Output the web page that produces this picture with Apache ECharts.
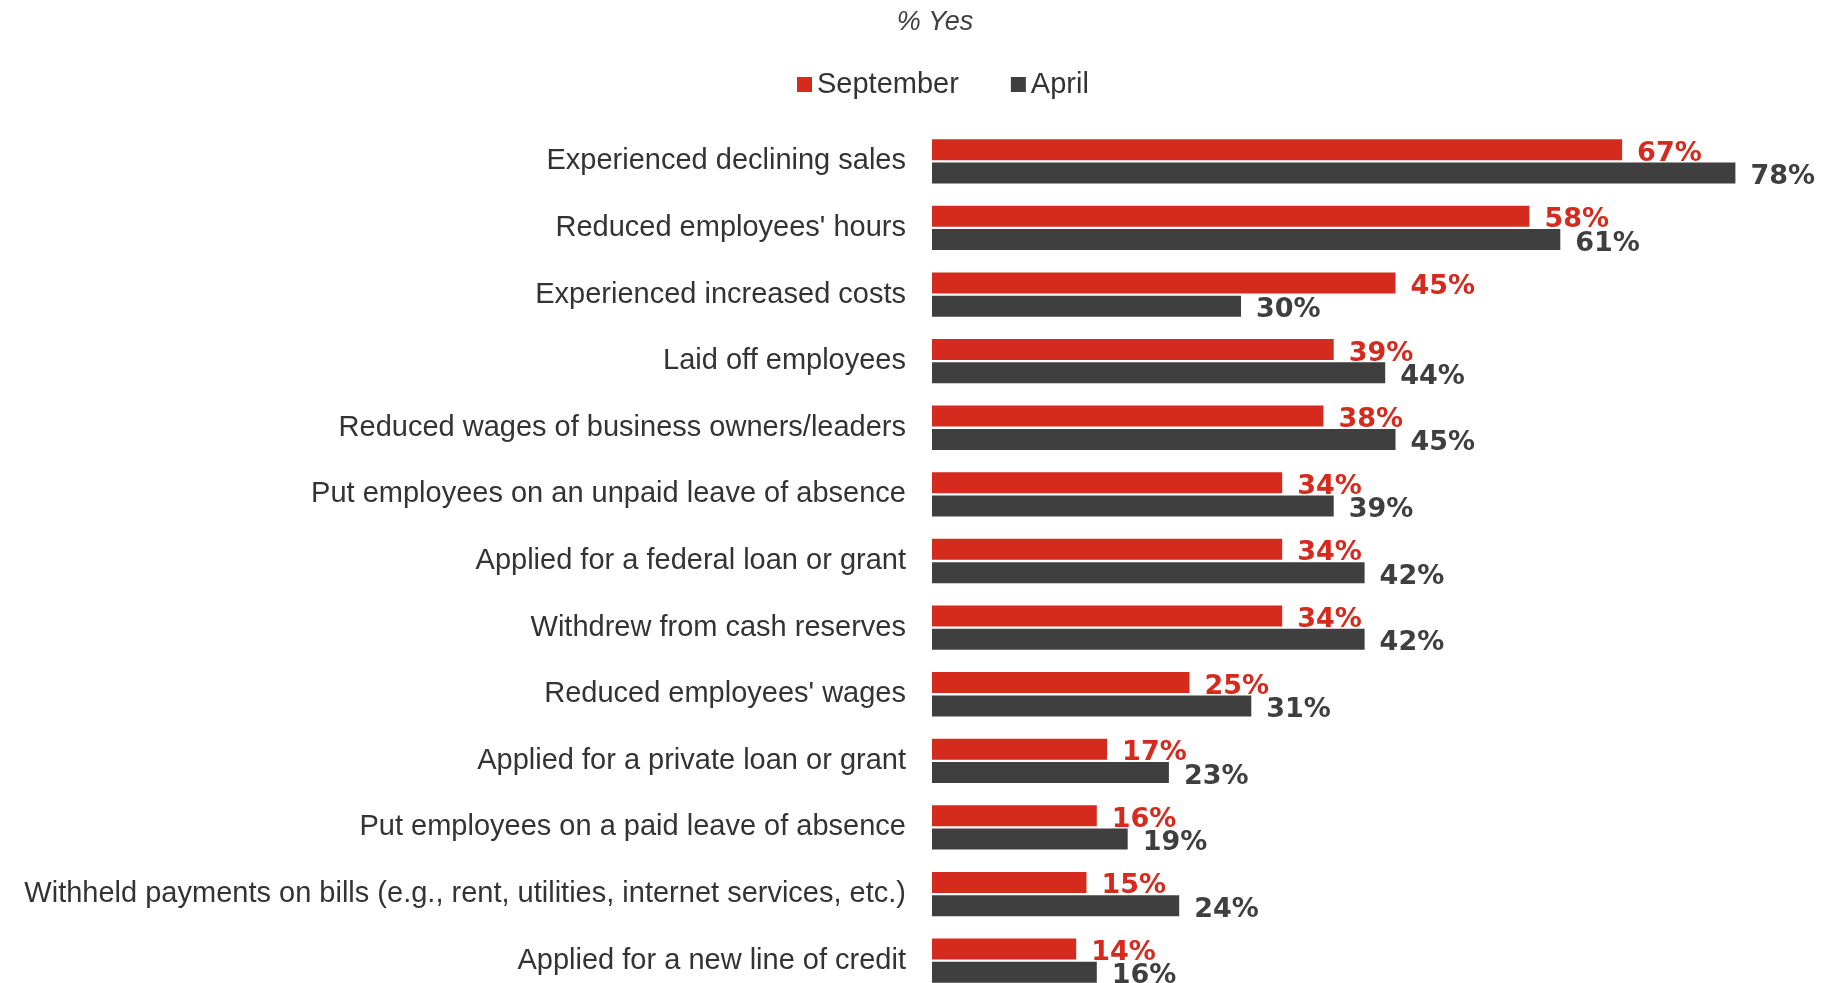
<!DOCTYPE html>
<html>
<head>
<meta charset="utf-8">
<script src="https://cdn.jsdelivr.net/npm/echarts@6/dist/echarts.min.js"></script>
<style>
html,body{margin:0;padding:0;background:#fff;overflow:hidden;}
#chart{width:1824px;height:1000px;}
</style>
</head>
<body>
<div id="chart"></div>
<script>
const categories = [
  "Experienced declining sales",
  "Reduced employees' hours",
  "Experienced increased costs",
  "Laid off employees",
  "Reduced wages of business owners/leaders",
  "Put employees on an unpaid leave of absence",
  "Applied for a federal loan or grant",
  "Withdrew from cash reserves",
  "Reduced employees' wages",
  "Applied for a private loan or grant",
  "Put employees on a paid leave of absence",
  "Withheld payments on bills (e.g., rent, utilities, internet services, etc.)",
  "Applied for a new line of credit"
];
const september = [67, 58, 45, 39, 38, 34, 34, 34, 25, 17, 16, 15, 14];
const april = [78, 61, 30, 44, 45, 39, 42, 42, 31, 23, 19, 24, 16];
const seriesNames = ["September", "April"];
const titleText = "% Yes";

const RED = '#D52B1E';
const DARK = '#3F3F3F';

const chart = echarts.init(document.getElementById('chart'), null, {renderer: 'canvas'});
chart.setOption({
  animation: false,
  backgroundColor: '#ffffff',
  title: {
    text: titleText,
    left: 930,
    textAlign: 'center',
    top: 4,
    textStyle: {fontFamily: 'Liberation Sans', fontStyle: 'italic', fontWeight: 'normal', fontSize: 27, color: '#404040'}
  },
  legend: {
    data: seriesNames,
    left: 797,
    top: 70,
    padding: 0,
    itemWidth: 15,
    itemHeight: 15,
    itemGap: 52,
    icon: 'rect',
    textStyle: {fontFamily: 'Liberation Sans', fontSize: 29, color: '#333333'}
  },
  grid: {left: 932, top: 128, width: 824, height: 866, containLabel: false},
  xAxis: {
    type: 'value', min: 0, max: 80,
    show: false
  },
  yAxis: {
    type: 'category',
    data: categories,
    inverse: true,
    axisLine: {show: false},
    axisTick: {show: false},
    splitLine: {show: false},
    axisLabel: {margin: 26, fontFamily: 'Liberation Sans', fontSize: 29, color: '#333333'}
  },
  series: [
    {
      name: seriesNames[0], type: 'bar', data: september,
      barWidth: 21, barGap: '11%',
      itemStyle: {color: RED},
      label: {show: true, position: 'right', distance: 15, offset: [0, 4], formatter: '{c}%',
        fontFamily: 'DejaVu Sans', fontWeight: 'bold', fontSize: 27, color: RED}
    },
    {
      name: seriesNames[1], type: 'bar', data: april,
      barWidth: 21, barGap: '11%',
      itemStyle: {color: DARK},
      label: {show: true, position: 'right', distance: 15, offset: [0, 4], formatter: '{c}%',
        fontFamily: 'DejaVu Sans', fontWeight: 'bold', fontSize: 27, color: DARK}
    }
  ]
});
</script>
</body>
</html>
